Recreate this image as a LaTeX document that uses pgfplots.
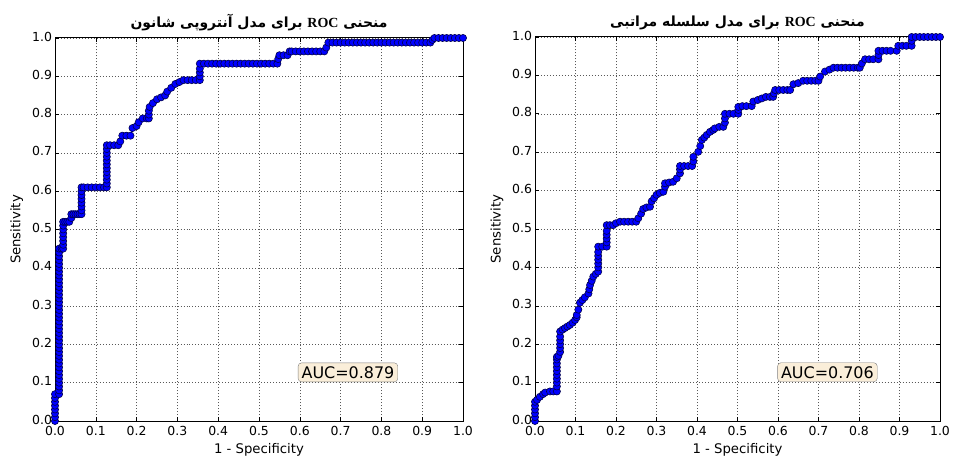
\documentclass[border=0pt]{standalone}
\usepackage{pgfplots}
\pgfplotsset{compat=1.18}
\usepackage{fontspec}
\setmainfont{DejaVu Sans}
\TeXXeTstate=1
\newfontfamily\arabicfont[Script=Arabic]{DejaVu Sans}
\newfontfamily\romanfont{Liberation Serif}
\definecolor{aucfill}{RGB}{250,238,217}
\pgfplotsset{rocstyle/.style={
  scale only axis, xmin=0, xmax=1, ymin=0, ymax=1,
  xtick={0,0.1,0.2,0.3,0.4,0.5,0.6,0.7,0.8,0.9,1},
  ytick={0,0.1,0.2,0.3,0.4,0.5,0.6,0.7,0.8,0.9,1},
  /pgf/number format/.cd, fixed, fixed zerofill, precision=1, assume math mode=true, /pgfplots/.cd,
  grid=major, major grid style={black!65, line width=0.5pt, dash pattern=on 1pt off 2pt},
  axis line style={line width=1pt},
  tick align=inside, major tick length=4pt, tick style={black, line width=0.6pt},
  tick label style={font=\fontsize{12.5}{14}\selectfont},
  xticklabel style={yshift=-1.5pt},
  yticklabel style={xshift=0.5pt, yshift=1.5pt},
  label style={font=\fontsize{13.3}{15}\selectfont},
  xlabel={1 - Specificity}, ylabel={Sensitivity},
  xlabel style={at={(axis description cs:0.5,0)}, anchor=center, yshift=-29bp},
  ylabel style={at={(axis description cs:-0.094,0.5)}, anchor=center},
  title style={font=\fontsize{14}{16}\selectfont, yshift=-2pt},
},
rocline/.style={blue, line width=1.2pt, mark=*, mark size=3.6pt,
  mark options={fill=blue, draw=black!70!blue, line width=0.6pt}}
}
\tikzset{aucbox/.style={draw=gray, fill=aucfill, rounded corners=3.5pt, font=\fontsize{16}{18}\selectfont, inner xsep=3.5pt, inner ysep=3.5pt}}
\begin{document}
\begin{tikzpicture}
\useasboundingbox (-55bp,-38bp) rectangle (899bp,421bp);
\begin{axis}[rocstyle, at={(0bp,0bp)}, anchor=south west, width=408bp, height=383bp,
  title={\arabicfont\bfseries\beginR منحنی \beginL{\romanfont ROC}\endL{} برای مدل آنتروپی شانون\endR}]
\addplot[rocline] coordinates {
(0,0)(0,0.01)(0,0.02)(0,0.03)(0,0.04)(0,0.05)(0,0.06)(0,0.07)
(0.01,0.07)(0.01,0.08)(0.01,0.09)(0.01,0.10)(0.01,0.11)(0.01,0.12)(0.01,0.13)(0.01,0.14)(0.01,0.15)(0.01,0.16)
(0.01,0.17)(0.01,0.18)(0.01,0.19)(0.01,0.20)(0.01,0.21)(0.01,0.22)(0.01,0.23)(0.01,0.24)(0.01,0.25)(0.01,0.26)
(0.01,0.27)(0.01,0.28)(0.01,0.29)(0.01,0.30)(0.01,0.31)(0.01,0.32)(0.01,0.33)(0.01,0.34)(0.01,0.35)(0.01,0.36)
(0.01,0.37)(0.01,0.38)(0.01,0.39)(0.01,0.40)(0.01,0.41)(0.01,0.42)(0.01,0.43)(0.01,0.44)(0.01,0.45)
(0.016,0.45)(0.02,0.45)(0.02,0.46)(0.02,0.47)(0.02,0.48)(0.02,0.49)(0.02,0.50)(0.02,0.51)(0.02,0.52)
(0.025,0.52)(0.03,0.52)(0.035,0.52)(0.04,0.53)(0.04,0.54)
(0.045,0.54)(0.05,0.54)(0.055,0.54)(0.06,0.54)(0.065,0.54)
(0.065,0.55)(0.065,0.56)(0.065,0.57)(0.065,0.58)(0.065,0.59)(0.065,0.60)(0.065,0.61)
(0.07,0.61)(0.08,0.61)(0.09,0.61)(0.10,0.61)(0.11,0.61)(0.12,0.61)(0.127,0.61)
(0.127,0.62)(0.127,0.63)(0.127,0.64)(0.127,0.65)(0.127,0.66)(0.127,0.67)(0.127,0.68)(0.127,0.69)(0.127,0.70)(0.127,0.71)(0.127,0.72)
(0.135,0.72)(0.145,0.72)(0.155,0.72)(0.16,0.73)(0.165,0.745)(0.175,0.745)(0.185,0.745)
(0.19,0.765)(0.20,0.77)(0.205,0.78)(0.215,0.79)(0.225,0.79)(0.23,0.79)(0.23,0.80)(0.23,0.81)(0.232,0.82)
(0.24,0.83)(0.25,0.84)(0.26,0.845)(0.27,0.85)(0.275,0.86)(0.285,0.87)(0.295,0.88)(0.305,0.885)
(0.315,0.89)(0.325,0.89)(0.335,0.89)(0.345,0.89)(0.355,0.89)(0.355,0.90)(0.355,0.91)(0.355,0.92)(0.355,0.933)
(0.365,0.933)(0.375,0.933)(0.385,0.933)(0.395,0.933)(0.405,0.933)(0.415,0.933)(0.425,0.933)(0.435,0.933)(0.445,0.933)
(0.455,0.933)(0.465,0.933)(0.475,0.933)(0.485,0.933)(0.495,0.933)(0.505,0.933)(0.515,0.933)(0.525,0.933)(0.535,0.933)(0.545,0.933)
(0.547,0.945)(0.55,0.955)(0.56,0.955)(0.57,0.955)(0.575,0.965)
(0.58,0.965)(0.59,0.965)(0.60,0.965)(0.61,0.965)(0.62,0.965)(0.63,0.965)(0.64,0.965)(0.65,0.965)(0.66,0.965)
(0.665,0.975)(0.67,0.988)(0.68,0.988)(0.69,0.988)(0.70,0.988)(0.71,0.988)(0.72,0.988)(0.73,0.988)(0.74,0.988)(0.75,0.988)
(0.76,0.988)(0.77,0.988)(0.78,0.988)(0.79,0.988)(0.80,0.988)(0.81,0.988)(0.82,0.988)(0.83,0.988)(0.84,0.988)(0.85,0.988)
(0.86,0.988)(0.87,0.988)(0.88,0.988)(0.89,0.988)(0.90,0.988)(0.91,0.988)(0.92,0.988)
(0.925,0.995)(0.93,1.0)(0.94,1.0)(0.95,1.0)(0.96,1.0)(0.97,1.0)(0.98,1.0)(0.99,1.0)(1.0,1.0)
};
\node[aucbox] at (axis cs:0.718,0.127) {AUC=0.879};
\end{axis}
\begin{axis}[rocstyle, at={(480bp,0bp)}, anchor=south west, width=405bp, height=384bp,
  title={\arabicfont\bfseries\beginR منحنی \beginL{\romanfont ROC}\endL{} برای مدل سلسله مراتبی\endR}]
\addplot[rocline] coordinates {
(0,0)(0,0.01)(0,0.02)(0,0.03)(0,0.04)(0,0.05)
(0.005,0.055)(0.012,0.063)(0.02,0.07)(0.025,0.074)(0.037,0.077)(0.045,0.077)(0.054,0.077)
(0.054,0.09)(0.054,0.10)(0.054,0.11)(0.054,0.12)(0.054,0.13)(0.054,0.14)(0.054,0.15)(0.054,0.16)(0.054,0.167)
(0.058,0.17)(0.062,0.18)(0.062,0.19)(0.062,0.20)(0.062,0.21)(0.062,0.22)(0.062,0.233)
(0.068,0.238)(0.074,0.242)(0.08,0.246)(0.086,0.25)(0.093,0.256)(0.099,0.263)(0.103,0.27)(0.103,0.276)
(0.107,0.29)(0.111,0.308)(0.117,0.315)(0.123,0.322)(0.132,0.332)(0.134,0.343)(0.136,0.354)(0.14,0.365)
(0.144,0.376)(0.15,0.383)(0.156,0.389)(0.156,0.40)(0.156,0.41)(0.156,0.42)(0.156,0.43)(0.156,0.44)(0.156,0.454)
(0.166,0.454)(0.177,0.454)(0.177,0.465)(0.177,0.475)(0.177,0.485)(0.177,0.495)(0.177,0.51)
(0.185,0.51)(0.193,0.51)(0.20,0.515)(0.21,0.519)(0.22,0.519)(0.23,0.519)(0.24,0.519)(0.25,0.519)
(0.255,0.528)(0.262,0.54)(0.267,0.552)(0.275,0.556)(0.284,0.558)(0.288,0.572)(0.294,0.58)(0.30,0.589)
(0.308,0.594)(0.317,0.597)(0.321,0.61)(0.321,0.619)(0.331,0.621)(0.341,0.623)(0.35,0.632)(0.358,0.645)
(0.358,0.655)(0.358,0.664)(0.368,0.664)(0.378,0.664)(0.388,0.664)(0.391,0.676)(0.391,0.688)(0.403,0.701)
(0.408,0.716)(0.412,0.732)(0.418,0.738)(0.424,0.745)(0.432,0.753)(0.44,0.758)(0.444,0.762)(0.455,0.766)
(0.465,0.766)(0.469,0.777)(0.469,0.788)(0.469,0.80)(0.48,0.80)(0.49,0.80)(0.502,0.80)(0.502,0.81)(0.502,0.818)
(0.512,0.82)(0.522,0.82)(0.535,0.82)(0.539,0.832)(0.55,0.836)(0.56,0.84)(0.57,0.844)(0.58,0.844)(0.588,0.844)
(0.59,0.853)(0.593,0.862)(0.603,0.862)(0.613,0.862)(0.623,0.862)(0.63,0.862)(0.638,0.877)(0.65,0.88)(0.662,0.886)
(0.672,0.886)(0.682,0.886)(0.692,0.886)(0.70,0.886)(0.704,0.897)(0.716,0.91)(0.727,0.915)(0.737,0.92)
(0.747,0.92)(0.757,0.92)(0.767,0.92)(0.777,0.92)(0.787,0.92)(0.797,0.92)(0.802,0.92)(0.807,0.931)(0.815,0.942)
(0.825,0.942)(0.835,0.942)(0.848,0.942)(0.848,0.953)(0.848,0.964)(0.858,0.964)(0.868,0.964)(0.878,0.964)(0.893,0.964)
(0.897,0.977)(0.907,0.977)(0.917,0.977)(0.93,0.977)(0.93,0.99)(0.93,1.0)
(0.94,1.0)(0.95,1.0)(0.96,1.0)(0.97,1.0)(0.98,1.0)(0.99,1.0)(1.0,1.0)
};
\node[aucbox] at (axis cs:0.722,0.127) {AUC=0.706};
\end{axis}
\end{tikzpicture}
\end{document}
